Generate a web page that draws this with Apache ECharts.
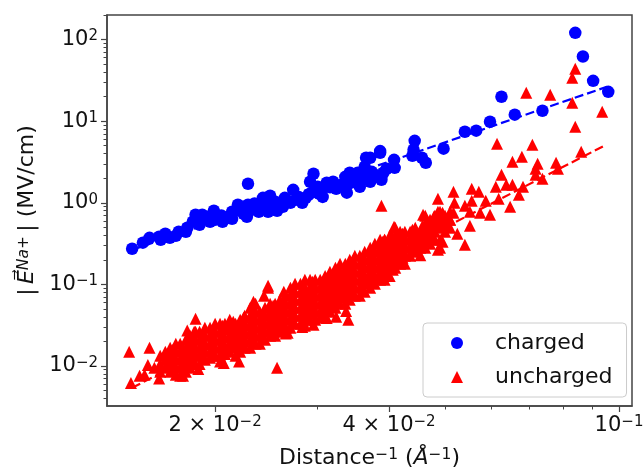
<!DOCTYPE html>
<html>
<head>
<meta charset="utf-8">
<script src="https://cdn.jsdelivr.net/npm/echarts@6/dist/echarts.min.js"></script>
<style>
  html, body { margin: 0; padding: 0; background: #fff; }
  #chart { width: 644px; height: 467px; }
</style>
</head>
<body>
<div id="chart"></div>
<script>
// values: [1/distance, field]
const charged = [
  [.01437,.273],[.0150,.324],[.0154,.372],[.0160,.383],[.0161,.352],[.0164,.417],[.0167,.372],[.0171,.394],[.0173,.441],
  [.0178,.441],[.0179,.494],[.0183,.585],[.0185,.713],[.0186,.60],[.0188,.537],[.0190,.713],[.0195,.674],[.0196,.585],
  [.0199,.798],[.0200,.619],[.0202,.693],[.0206,.585],[.0208,.655],[.0214,.776],[.0214,.637],[.0219,.945],[.0221,.82],
  [.0224,.733],[.0227,.674],[.0228,1.71],[.0228,.945],[.0232,.869],[.0236,.92],[.0238,.776],[.0239,.972],[.0242,1.15],
  [.0245,.945],[.0247,.776],[.0249,1.22],[.0251,.92],[.0254,1.03],[.0256,.798],[.0262,.893],[.0264,1.15],[.0270,1.0],
  [.0273,1.44],[.0276,1.09],[.0283,1.0],[.0287,1.15],[.0292,1.81],[.0294,1.33],[.0296,2.27],[.0298,1.36],[.0301,1.57],
  [.0303,1.29],[.0307,1.18],[.0312,1.76],[.0320,1.81],[.0324,1.48],[.0336,2.08],[.0338,1.33],[.0340,1.71],[.0342,2.33],
  [.0346,1.91],[.0351,2.02],[.0353,2.33],[.0356,1.57],[.0358,2.14],[.0363,2.76],[.0365,3.56],[.0368,1.91],[.0371,1.81],
  [.0371,3.56],[.0373,2.40],[.0378,2.08],[.0386,4.1],[.0386,4.3],[.0388,1.91],[.0391,2.33],[.0396,2.61],[.0408,3.36],
  [.0409,2.68],[.0439,3.77],[.0441,4.47],[.0443,5.74],[.0456,3.56],[.0463,3.09],[.0497,4.6],[.0541,7.42],[.0566,7.65],
  [.0598,9.83],[.0626,19.9],[.0660,12.0],[.0737,13.4],[.0840,121],[.0866,62],[.0902,31.2],[.0958,22.9],
  [.0192,.64],[.0205,.70],[.0217,.80],[.0230,.80],[.0234,.98],[.0243,.86],[.0258,.95],[.0267,1.05],[.0279,1.18],
  [.0290,1.25],[.0305,1.42],[.0316,1.55],[.0330,1.65],[.0349,1.78],[.0361,1.95],[.0376,2.25]
]

// dense part of the uncharged cloud, read column by column
const unchargedBandX = [
  .01607,.0164,.01672,.0171,.0174,.0178,.0181,.0185,.0188,.0192,.0196,.0200,.0204,.0208,.0212,.0217,.0221,.0225,.0230,
  .0235,.0239,.0244,.0249,.0254,.0259,.0265,.0270,.0275,.0281,.0286,.0292,.0298,.0304,.0310,.0316,.0323,.0329,.0336,
  .0342,.0349,.0356,.0363,.0371,.0378,.0386,.0393,.0401,.0410,.0418,.0426,.0435,.0444,.0453,.0462,.0471,.0480,.0490,
  .0500,.0510
]
const unchargedBandY = [
  [.0133,.0106,.0085],[.0149,.0119,.0095],[.0167,.0133,.0106,.0085],[.0187,.0149,.0119,.0095,.0078],
  [.0187,.0149,.0119,.0095,.0076],[.0209,.0167,.0133,.0106,.0085],[.0234,.0187,.0149,.0119,.0095],
  [.0262,.0209,.0167,.0133,.0106],[.0262,.0209,.0167,.0133,.0106],[.0294,.0234,.0187,.0149,.0119],
  [.0294,.0234,.0187,.0149,.0126],[.0329,.0262,.0209,.0167,.0133],[.0329,.0262,.0209,.0167,.0133,.0113],
  [.0329,.0279,.0221,.0176,.0140],[.0368,.0294,.0234,.0187,.0149],[.0329,.0262,.0209,.0167,.0133],
  [.0368,.0294,.0234,.0187,.0149],[.0412,.0329,.0262,.0209,.0167],[.0516,.0412,.0329,.0262,.0209,.0167],
  [.0578,.0461,.0368,.0294,.0234,.0187],[.0461,.0368,.0294,.0234,.0187],[.0516,.0412,.0329,.0262,.0209],
  [.0578,.0461,.0368,.0294,.0234],[.0578,.0461,.0368,.0294,.0234],[.0647,.0516,.0412,.0329,.0262],
  [.0725,.0578,.0461,.0368,.0294,.0250],[.0908,.0725,.0578,.0461,.0368,.0294],[.102,.0811,.0647,.0516,.0412,.0329],
  [.102,.0811,.0647,.0516,.0412,.0329],[.114,.0908,.0725,.0578,.0461,.0368,.0312],[.114,.0908,.0725,.0578,.0461,.0368],
  [.114,.0908,.0725,.0578,.0461,.0368],[.114,.0908,.0725,.0578,.0461,.0390],[.127,.102,.0811,.0647,.0516,.0412],
  [.143,.114,.0908,.0725,.0578,.0461],[.160,.127,.102,.0811,.0647,.0516],[.179,.143,.114,.0908,.0725,.0578],
  [.179,.143,.114,.0908,.0725,.0578],[.200,.160,.127,.102,.0811,.0647],[.224,.179,.143,.114,.0908,.0725],
  [.224,.179,.143,.114,.0908,.0725],[.251,.200,.160,.127,.102,.0811],[.281,.224,.179,.143,.114,.0908],
  [.314,.251,.200,.160,.127,.102],[.352,.281,.224,.179,.143,.114],[.352,.281,.224,.179,.143,.114],
  [.394,.314,.251,.200,.160,.127],[.494,.394,.314,.251,.200,.160],[.441,.352,.281,.224,.179],
  [.441,.352,.281,.224,.179],[.441,.352,.281,.224],[.494,.394,.314,.251],[.441,.352,.281,.228],
  [.693,.553,.441,.352,.281],[.619,.494,.394,.314],[.693,.553,.441,.352],[.776,.619,.494,.352,.281],
  [.693,.553,.441],[.776,.619,.494]
]
// more points between those columns, the cloud is solid here
const unchargedCoreX = [
  .0169,.0176,.0183,.0191,.0198,.0206,.0215,.0224,.0233,.0242,.0252,.0262,.0273,.0284,.0295,.0307,.0320,.0333,.0346,
  .0360,.0375,.0390,.0406,.0422,.0439,.0457,.0476,.0495
]
const unchargedCoreY = [
  [.0100,.0126,.0158],[.0100,.0126,.0158],[.0113,.0141,.0177,.0221],[.0126,.0158,.0198,.0248],
  [.0141,.0177,.0221,.0278],[.0158,.0198,.0248,.0311],[.0177,.0221,.0278,.0348],[.0198,.0248,.0311,.0390],
  [.0198,.0248,.0311,.0390,.0488],[.0221,.0278,.0348,.0436],[.0278,.0348,.0436,.0546],[.0311,.0390,.0488,.0612],
  [.0348,.0436,.0546,.0685,.0859],[.0348,.0436,.0546,.0685,.0859],[.0436,.0546,.0685,.0859,.108],
  [.0488,.0612,.0767,.0963],[.0546,.0685,.0859,.108,.135],[.0685,.0859,.108,.135],[.0767,.0963,.121,.151,.190],
  [.0859,.108,.135,.169,.212],[.108,.135,.169,.212,.266],[.135,.169,.212,.266,.333],[.151,.190,.237,.298,.373],
  [.212,.266,.333,.417],[.266,.333,.417],[.298,.373,.523],[.373,.523],[.523,.656]
]
// scattered uncharged points around and beyond the dense part
const unchargedOutliers = [
  [.0142,.0149],[.0154,.0167],[.0143,.0062],[.0148,.0076],[.0151,.0078],[.0153,.0103],[.0157,.0095],[.0160,.0070],
  [.0185,.0379],[.0179,.0271],[.0184,.0262],[.0247,.0963],[.0247,.0908],[.0243,.0725],[.0263,.0811],[.0233,.0612],
  [.0256,.0095],[.0220,.0113],[.0207,.0109],[.0176,.0076],[.0187,.0092],[.0340,.0368],[.0337,.0473],[.0324,.0400],
  [.0312,.0388],[.0296,.0320],[.0283,.0300],[.0267,.0255],[.0388,.919],[.0615,5.28],[.0708,5.14],[.0654,3.18],
  [.0679,3.66],[.0860,4.22],[.0778,3.09],[.0723,3.0],[.0717,2.61],[.0784,2.61],[.0737,1.97],[.0717,2.2],[.0626,2.2],
  [.0612,1.57],[.0638,1.66],[.0654,1.66],[.0682,1.57],[.0671,1.25],[.0619,1.12],[.0648,.893],[.0588,1.06],[.0572,1.36],
  [.0556,1.48],[.0556,1.06],[.0517,1.36],[.0519,1.0],[.0486,1.12],[.0541,.92],[.0598,.713],[.0575,.754],[.0552,.776],
  [.0552,.522],[.0525,.417],[.0541,.306],[.0486,.776],[.0458,.713],[.0478,.674],[.0495,.754],[.0484,.619],[.0408,.508],
  [.0439,.467],[.0453,.441],[.0486,.265],[.0495,.333],[.0510,.619],[.0517,.754],[.0393,.352],[.0405,.383],[.0691,22.3],
  [.0760,21.1],[.0840,43.9],[.0830,34],[.0830,16.8],[.0935,13.0],[.0840,8.55]
]

const chargedFit = [[.01437, .265], [.0953, 26.4]]
const unchargedFit = [[.01437, .0054], [.095, 5.14]]

const xLabelTicks = [0.02, 0.04, 0.1]
const xLabels = ['{n|2 × 10}{s|−2}', '{n|4 × 10}{s|−2}', '{n|10}{s|−1}']
const xMinorTicks = [0.03, 0.05, 0.06, 0.07, 0.08, 0.09]
const yLabelTicks = [0.01, 0.1, 1, 10, 100]
const yLabels = ['{n|10}{s|−2}', '{n|10}{s|−1}', '{n|10}{s|0}', '{n|10}{s|1}', '{n|10}{s|2}']
const yMinorTicks = [
  0.004, 0.005, 0.006, 0.007, 0.008, 0.009,
  0.02, 0.03, 0.04, 0.05, 0.06, 0.07, 0.08, 0.09,
  0.2, 0.3, 0.4, 0.5, 0.6, 0.7, 0.8, 0.9,
  2, 3, 4, 5, 6, 7, 8, 9,
  20, 30, 40, 50, 60, 70, 80, 90, 200
]

const uncharged = unchargedOutliers.slice()
unchargedBandX.forEach((x, i) => {
  unchargedBandY[i].forEach(y => uncharged.push([x, y]))
})
unchargedCoreX.forEach((x, i) => {
  unchargedCoreY[i].forEach(y => uncharged.push([x, y]))
})

const font = 'DejaVu Sans'
const ink = '#111'
const frame = '#444'
const labelRich = {
  n: { fontFamily: font, fontSize: 21, color: ink },
  s: { fontFamily: font, fontSize: 15, color: ink, verticalAlign: 'top' }
}
const nameRich = {
  n: { fontFamily: font, fontSize: 22, color: ink },
  s: { fontFamily: font, fontSize: 15.5, color: ink, verticalAlign: 'top' },
  i: { fontFamily: font, fontSize: 22, fontStyle: 'italic', color: ink },
  si: { fontFamily: font, fontSize: 15.5, fontStyle: 'italic', color: ink, verticalAlign: 'top' }
}
const xMin = 0.013
const xMax = 0.1053
const yMin = 0.00323
const yMax = 200

// second pair of axes only draws the short minor ticks
const chart = echarts.init(document.getElementById('chart'))
chart.setOption({
  animation: false,
  backgroundColor: '#fff',
  grid: {
    left: 107, right: 12, top: 15, bottom: 61,
    show: true, borderColor: frame, borderWidth: 1.5,
    containLabel: false, outerBoundsMode: 'none'
  },
  legend: {
    left: 423,
    top: 323,
    orient: 'vertical',
    data: ['charged', 'uncharged'],
    padding: [9, 14, 9, 28],
    itemGap: 12,
    itemWidth: 12,
    itemHeight: 12,
    borderColor: '#ccc',
    borderWidth: 1,
    borderRadius: 4,
    backgroundColor: 'rgba(255,255,255,0.85)',
    textStyle: { fontFamily: font, fontSize: 22, color: ink, padding: [0, 0, 0, 27] }
  },
  xAxis: [
    {
      type: 'log',
      min: xMin,
      max: xMax,
      splitLine: { show: false },
      axisLine: { lineStyle: { color: frame, width: 1.5 } },
      axisTick: { show: true, length: 6, customValues: xLabelTicks, lineStyle: { color: frame, width: 1.2 } },
      axisLabel: {
        margin: 9,
        customValues: xLabelTicks,
        formatter: v => xLabels[xLabelTicks.findIndex(t => Math.abs(t - v) / t < 1e-6)],
        rich: labelRich
      },
      name: '{n|Distance}{s|−1}{n| (}{i|Å}{s|−1}{n|)}',
      nameLocation: 'middle',
      nameGap: 41,
      nameTextStyle: { rich: nameRich }
    },
    {
      type: 'log',
      min: xMin,
      max: xMax,
      position: 'bottom',
      splitLine: { show: false },
      axisLine: { show: false },
      axisLabel: { show: false },
      axisTick: { show: true, length: 3.5, customValues: xMinorTicks, lineStyle: { color: frame, width: 1 } }
    }
  ],
  yAxis: [
    {
      type: 'log',
      min: yMin,
      max: yMax,
      splitLine: { show: false },
      axisLine: { show: true, lineStyle: { color: frame, width: 1.5 } },
      axisTick: { show: true, length: 6, customValues: yLabelTicks, lineStyle: { color: frame, width: 1.2 } },
      axisLabel: {
        margin: 9,
        customValues: yLabelTicks,
        formatter: v => yLabels[yLabelTicks.findIndex(t => Math.abs(t - v) / t < 1e-6)],
        rich: labelRich
      },
      name: '{n|\u007c\u2009}{i|E\u20D7}{si|Na+}{n|\u2009\u007c (MV/cm)}',
      nameLocation: 'middle',
      nameGap: 66,
      nameRotate: 90,
      nameTextStyle: { rich: nameRich }
    },
    {
      type: 'log',
      min: yMin,
      max: yMax,
      position: 'left',
      splitLine: { show: false },
      axisLine: { show: false },
      axisLabel: { show: false },
      axisTick: { show: true, length: 3.5, customValues: yMinorTicks, lineStyle: { color: frame, width: 1 } }
    }
  ],
  series: [
    {
      name: 'charged',
      type: 'scatter',
      data: charged,
      symbol: 'circle',
      symbolSize: 12.5,
      itemStyle: { color: '#0000ff', opacity: 1 },
      z: 3
    },
    {
      name: 'uncharged',
      type: 'scatter',
      data: uncharged,
      symbol: 'triangle',
      symbolSize: 12,
      itemStyle: { color: '#ff0000', opacity: 1 },
      z: 4
    },
    {
      name: 'charged fit',
      type: 'line',
      data: chargedFit,
      showSymbol: false,
      lineStyle: { color: '#0000ff', width: 2.2, type: [9, 4] },
      z: 3
    },
    {
      name: 'uncharged fit',
      type: 'line',
      data: unchargedFit,
      showSymbol: false,
      lineStyle: { color: '#ff0000', width: 2.2, type: [9, 4] },
      z: 4
    }
  ]
})
</script>
</body>
</html>
